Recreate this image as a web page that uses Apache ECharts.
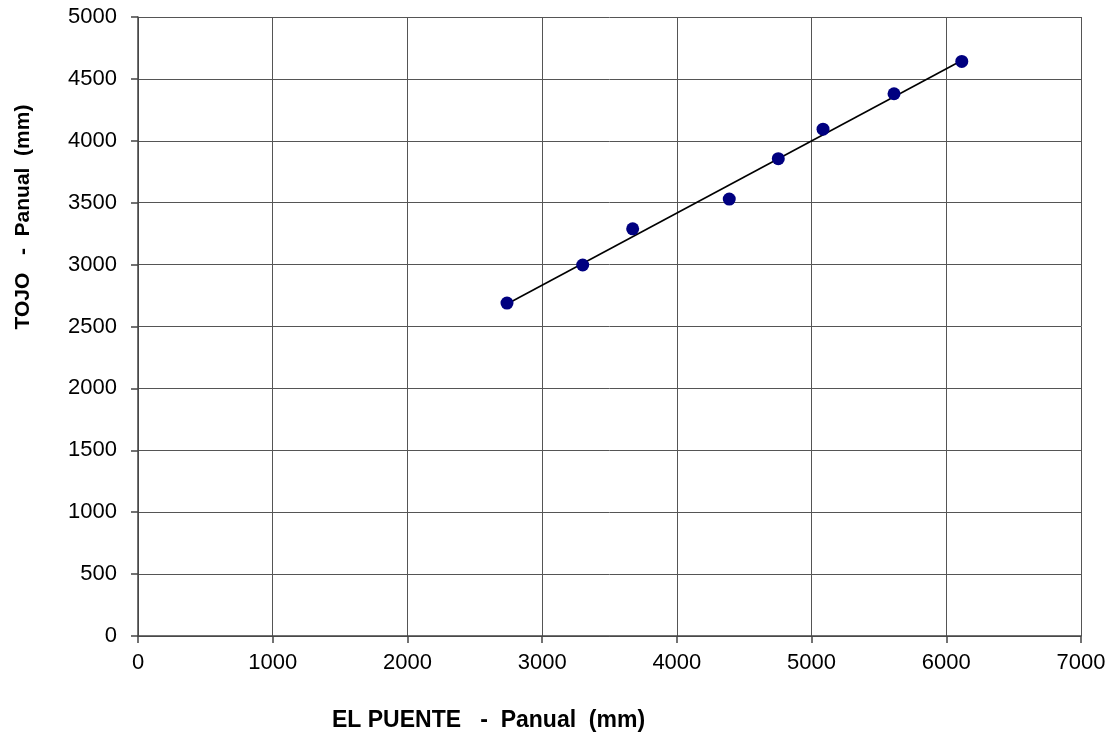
<!DOCTYPE html>
<html>
<head>
<meta charset="utf-8">
<script src="https://cdn.jsdelivr.net/npm/echarts@6/dist/echarts.min.js"></script>
<style>html,body{margin:0;padding:0;background:#fff;}#c{width:1115px;height:744px;}</style>
</head>
<body>
<div id="c"></div>
<script>
var elPuente = [2739, 3301, 3672, 4389, 4753, 5085, 5612, 6115];
var tojo = [2689, 2997, 3289, 3529, 3856, 4094, 4380, 4641];
var trendX = [2739, 6115];
var trendY = [2682, 4648];
var xTitle = 'EL PUENTE   -  Panual  (mm)';
var yTitle = 'TOJO   -  Panual  (mm)';

var pts = elPuente.map(function (x, i) { return [x, tojo[i]]; });
var trend = trendX.map(function (x, i) { return [x, trendY[i]]; });
var font = '"Liberation Sans", Arial, sans-serif';
var plain = function (v) { return String(v); };

var chart = echarts.init(document.getElementById('c'), null, { renderer: 'canvas' });
chart.setOption({
  animation: false,
  backgroundColor: '#ffffff',
  grid: { left: 138, right: 34, top: 17, bottom: 108, containLabel: false },
  xAxis: {
    type: 'value', min: 0, max: 7000, interval: 1000,
    axisLine: { show: true, lineStyle: { color: '#444', width: 1.5 } },
    axisTick: { show: true, inside: false, length: 7, lineStyle: { color: '#444', width: 1.5 } },
    axisLabel: { color: '#000', fontSize: 22, fontFamily: font, margin: 16, formatter: plain },
    splitLine: { show: true, lineStyle: { color: '#555', width: 1 } }
  },
  yAxis: {
    type: 'value', min: 0, max: 5000, interval: 500,
    axisLine: { show: true, lineStyle: { color: '#444', width: 1.5 } },
    axisTick: { show: true, inside: false, length: 7, lineStyle: { color: '#444', width: 1.5 } },
    axisLabel: { color: '#000', fontSize: 22, fontFamily: font, margin: 21, formatter: plain },
    splitLine: { show: true, lineStyle: { color: '#555', width: 1 } }
  },
  graphic: [
    { type: 'text', left: 332, top: 709,
      style: { text: xTitle, fill: '#000', font: 'bold 23px ' + font } },
    { type: 'text', x: 23, y: 217, rotation: Math.PI / 2,
      style: { text: yTitle, fill: '#000', font: 'bold 21px ' + font, align: 'center', verticalAlign: 'middle' } }
  ],
  series: [
    { type: 'line', data: trend, symbol: 'none', lineStyle: { color: '#000', width: 1.6 }, z: 2 },
    { type: 'scatter', data: pts, symbol: 'circle', symbolSize: 13,
      itemStyle: { color: '#000080', opacity: 1 }, z: 3 }
  ]
});
</script>
</body>
</html>
